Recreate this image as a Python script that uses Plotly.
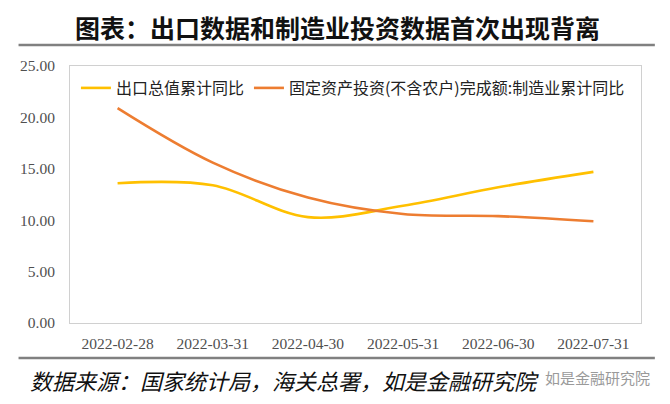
import plotly.graph_objects as go

dates = ["2022-02-28", "2022-03-31", "2022-04-30", "2022-05-31", "2022-06-30", "2022-07-31"]
export_yoy = [13.6, 13.4, 10.3, 11.4, 13.2, 14.7]
mfg_inv_yoy = [20.9, 15.6, 12.2, 10.6, 10.4, 9.9]
y_ticks = [0, 5, 10, 15, 20, 25]
y_tick_labels = ["0.00", "5.00", "10.00", "15.00", "20.00", "25.00"]

name_export = "出口总值累计同比"
name_mfg = "固定资产投资(不含农户)完成额:制造业累计同比"
title_text = "图表：出口数据和制造业投资数据首次出现背离"
source_text = "数据来源：国家统计局，海关总署，如是金融研究院"
watermark_text = "如是金融研究院"

cjk = "Noto Sans CJK SC"

# Page body has an 8px default margin; figure is sized/positioned to compensate.
W, H = 662, 396
L, R, T, B = 56, 29, 58, 81
PW = W - L - R
PH = H - T - B


def px(xp):
    return (xp - 8 - L) / PW


def py(yp):
    return (H - B - (yp - 8)) / PH


fig = go.Figure()
fig.add_trace(go.Scatter(x=dates, y=export_yoy, mode="lines", name=name_export,
                         line=dict(color="#FFC000", width=2.6, shape="spline", smoothing=1.0)))
fig.add_trace(go.Scatter(x=dates, y=mfg_inv_yoy, mode="lines", name=name_mfg,
                         line=dict(color="#ED7D31", width=2.6, shape="spline", smoothing=1.0)))

fig.update_layout(
    width=W, height=H,
    margin=dict(l=L, r=R, t=T, b=B),
    plot_bgcolor="white", paper_bgcolor="white",
    showlegend=True,
    legend=dict(orientation="h", x=px(70), y=py(88), xanchor="left", yanchor="middle",
                font=dict(family=cjk, size=16, color="#222222"),
                bgcolor="rgba(0,0,0,0)", itemwidth=30, tracegroupgap=0),
    xaxis=dict(type="category", range=[-0.5, 5.5], showgrid=False, zeroline=False,
               showline=True, linecolor="#D0D0D0", linewidth=1, mirror=True,
               ticks="", ticklabelstandoff=6,
               tickfont=dict(family="Liberation Serif", size=15.5, color="#505050")),
    yaxis=dict(range=[0, 25], tickvals=y_ticks, ticktext=y_tick_labels,
               showgrid=False, zeroline=False,
               showline=True, linecolor="#D0D0D0", linewidth=1, mirror=True,
               ticks="", ticklabelstandoff=11,
               tickfont=dict(family="Liberation Serif", size=15.5, color="#505050")),
    annotations=[
        dict(text="<b>" + title_text + "</b>", xref="paper", yref="paper",
             x=px(334), y=py(27), xanchor="center", yanchor="middle",
             showarrow=False, font=dict(family=cjk, size=25, color="#111111")),
        dict(text="<i>" + source_text + "</i>", xref="paper", yref="paper",
             x=px(22), y=py(380), xanchor="left", yanchor="middle",
             showarrow=False, font=dict(family=cjk, size=22, color="#111111")),
        dict(text=watermark_text, xref="paper", yref="paper",
             x=px(652), y=py(377), xanchor="right", yanchor="middle",
             showarrow=False, font=dict(family=cjk, size=15, color="#9A9A9A")),
    ],
)

fig.add_shape(type="line", xref="paper", yref="paper", x0=px(12), x1=px(655),
              y0=py(45), y1=py(45), line=dict(color="#808080", width=2.5))
fig.add_shape(type="line", xref="paper", yref="paper", x0=px(12), x1=px(655),
              y0=py(358), y1=py(358), line=dict(color="#808080", width=2.5))

fig.write_html("out.html")
